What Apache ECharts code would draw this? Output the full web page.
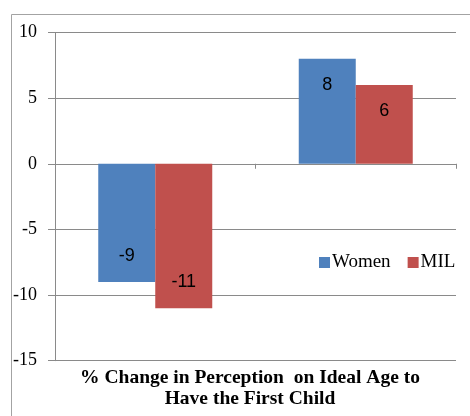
<!DOCTYPE html>
<html>
<head>
<meta charset="utf-8">
<script src="https://cdn.jsdelivr.net/npm/echarts@6/dist/echarts.min.js"></script>
<style>
  html, body { margin: 0; padding: 0; background: #fff; }
  #chart { width: 470px; height: 416px; }
</style>
</head>
<body>
<div id="chart"></div>
<script>
// Two groups of bars: women vs. mothers-in-law (MIL)
const categories = ['', ''];
const womenValues = [-9, 8];
const milValues = [-11, 6];
const seriesNames = ['Women', 'MIL'];
const axisTitle = '% Change in Perception  on Ideal Age to\nHave the First Child';

const serif = '"Liberation Serif", "Times New Roman", serif';
const labelFont = '"Liberation Sans Narrow", "Arial Narrow", "Liberation Sans", sans-serif';
const gridGray = '#8a8a8a';

const barLabel = {
  show: true,
  distance: 17,
  color: '#000',
  fontFamily: labelFont,
  fontSize: 18
};

// Positive bars carry their value label just inside the top, negative ones just inside the bottom
function labelled(values) {
  return values.map(v => ({
    value: v,
    label: Object.assign({}, barLabel, { position: v >= 0 ? 'insideTop' : 'insideBottom' })
  }));
}

const chart = echarts.init(document.getElementById('chart'), null, { renderer: 'canvas' });
chart.setOption({
  animation: false,
  backgroundColor: '#fff',
  grid: { left: 55, right: 14, top: 32.5, bottom: 55.3, containLabel: false },
  title: {
    text: axisTitle,
    left: 250,
    top: 367,
    padding: 0,
    textAlign: 'center',
    textStyle: {
      fontFamily: serif,
      fontWeight: 'bold',
      fontSize: 19.5,
      lineHeight: 21,
      color: '#000'
    }
  },
  legend: {
    data: seriesNames,
    left: 319,
    top: 253,
    padding: 0,
    icon: 'rect',
    itemWidth: 11,
    itemHeight: 11,
    itemGap: 17,
    textStyle: {
      fontFamily: serif,
      fontSize: 19,
      color: '#000',
      padding: [0, 0, 0, -3]
    }
  },
  xAxis: {
    type: 'category',
    data: categories,
    axisLine: { onZero: true, lineStyle: { color: gridGray, width: 1 } },
    axisTick: { show: true, length: 5, lineStyle: { color: gridGray } },
    axisLabel: { show: false },
    splitLine: { show: false }
  },
  yAxis: {
    type: 'value',
    min: -15,
    max: 10,
    interval: 5,
    axisLine: { show: true, lineStyle: { color: gridGray, width: 1 } },
    axisTick: { show: true, length: 7, lineStyle: { color: gridGray } },
    axisLabel: {
      margin: 18,
      fontFamily: serif,
      fontSize: 18,
      color: '#000'
    },
    splitLine: { show: true, lineStyle: { color: gridGray, width: 1 } }
  },
  series: [
    {
      name: seriesNames[0],
      type: 'bar',
      data: labelled(womenValues),
      barWidth: 57,
      barGap: '0%',
      itemStyle: { color: '#4F81BD' },
      label: barLabel
    },
    {
      name: seriesNames[1],
      type: 'bar',
      data: labelled(milValues),
      barWidth: 57,
      barGap: '0%',
      itemStyle: { color: '#C0504D' },
      label: barLabel
    }
  ],
  graphic: [
    {
      type: 'rect',
      shape: { x: 11.5, y: 14.5, width: 480, height: 420 },
      style: { fill: 'none', stroke: '#a3a3a3', lineWidth: 1 },
      silent: true,
      z: 100
    }
  ]
});
</script>
</body>
</html>
